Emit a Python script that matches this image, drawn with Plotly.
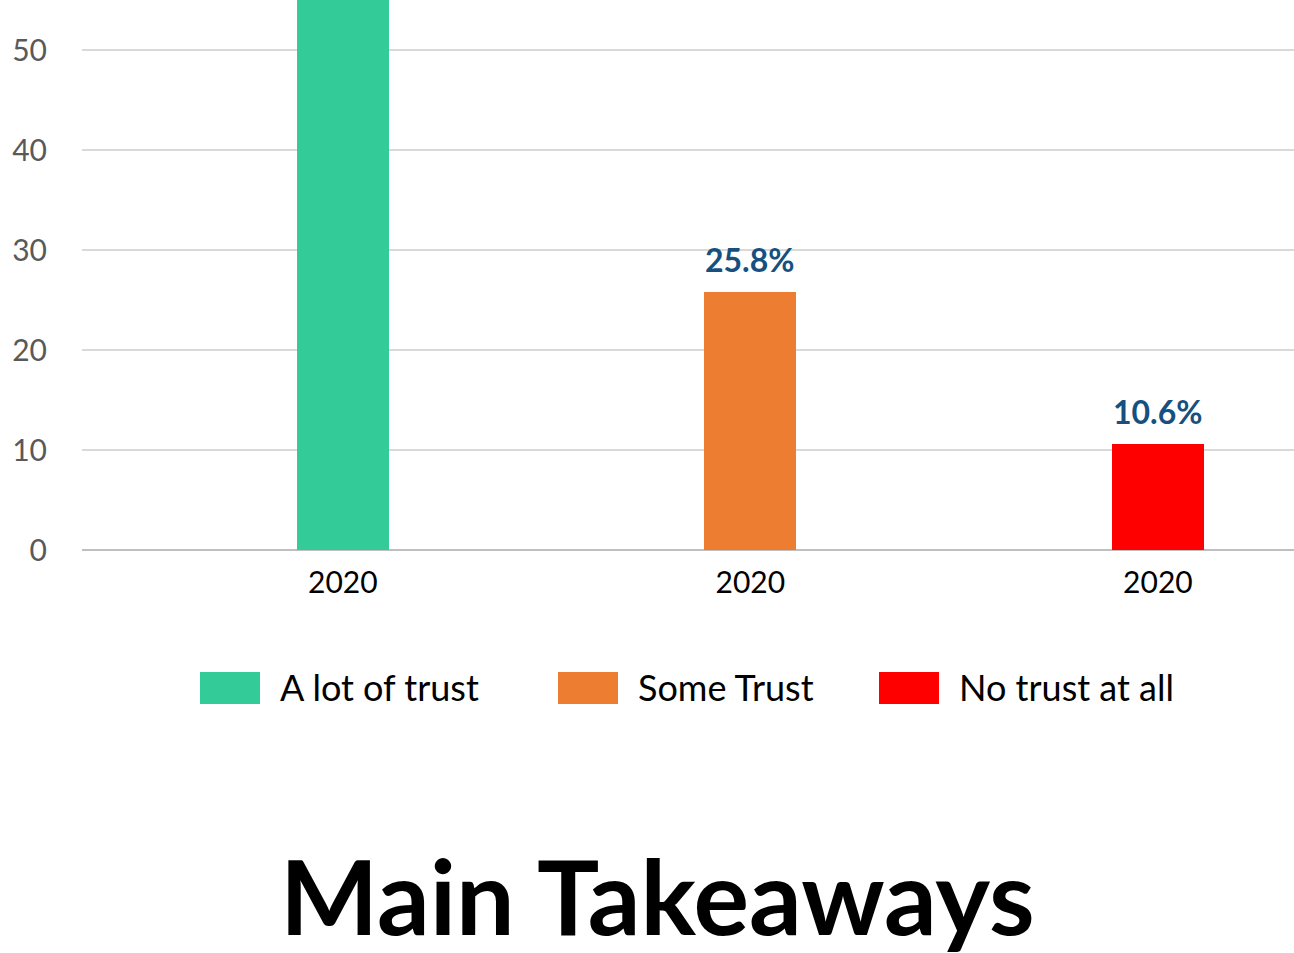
"""
Trust levels (2020) bar chart with a custom legend and a heading below.
"""

import plotly.graph_objects as go

# ── Data ─────────────────────────────────────────────────────
categories = ["A lot of trust", "Some Trust", "No trust at all"]
values = [63.6, 25.8, 10.6]
year_labels = ["2020", "2020", "2020"]
colors = ["#33CC99", "#ED7D31", "#FF0000"]
y_ticks = [0, 10, 20, 30, 40, 50]

# ── Page geometry (px) ───────────────────────────────────────
W, H = 1294, 953
L, PLOT_BOTTOM = 82, 550


def px_x(p):
    return (p - L) / (W - L)


def px_y(p):
    return (PLOT_BOTTOM - p) / PLOT_BOTTOM


FONT = "Lato, 'Open Sans', sans-serif"

fig = go.Figure()
positions = list(range(len(categories)))

for i, (name, val, col) in enumerate(zip(categories, values, colors)):
    fig.add_trace(go.Bar(
        x=[positions[i]], y=[val], name=name,
        marker=dict(color=col, line=dict(width=0)),
        width=0.226, showlegend=False,
    ))
    fig.add_annotation(
        x=positions[i], y=val, text=f"<b>{val:.1f}%</b>",
        showarrow=False, yanchor="bottom", yshift=11,
        font=dict(family=FONT, size=32, color="#17507F"),
    )

# ── Custom legend ───────────────────────────────────────────
legend_box_x = [200, 558, 879]
for name, col, bx in zip(categories, colors, legend_box_x):
    fig.add_shape(
        type="rect", xref="paper", yref="paper",
        x0=px_x(bx), x1=px_x(bx + 60), y0=px_y(704), y1=px_y(672),
        fillcolor=col, line=dict(width=0),
    )
    fig.add_annotation(
        xref="paper", yref="paper", x=px_x(bx + 78), y=px_y(687),
        text=name, showarrow=False, xanchor="left", yanchor="middle",
        font=dict(family=FONT, size=36, color="#000000"),
    )

# ── Heading ─────────────────────────────────────────────────
fig.add_annotation(
    xref="paper", yref="paper", x=px_x(657), y=px_y(894),
    text="<b>Main Takeaways</b>", showarrow=False,
    xanchor="center", yanchor="middle",
    font=dict(family=FONT, size=104, color="#000000"),
)

fig.update_layout(
    width=W, height=H,
    margin=dict(l=L, r=0, t=0, b=H - PLOT_BOTTOM, pad=0),
    paper_bgcolor="white", plot_bgcolor="white",
    bargap=0,
    font=dict(family=FONT, size=30),
)
fig.update_xaxes(
    range=[-0.64, 2.334], tickvals=positions, ticktext=year_labels,
    showgrid=False, zeroline=False, showline=False, ticks="",
    tickfont=dict(family=FONT, size=30, color="#000000"),
    ticklabelstandoff=12,
)
fig.update_yaxes(
    range=[0, 55], tickvals=y_ticks,
    showgrid=True, gridcolor="#D9D9D9", gridwidth=2,
    zeroline=True, zerolinecolor="#BFBFBF", zerolinewidth=2,
    showline=False, ticks="",
    tickfont=dict(family=FONT, size=30, color="#595959"),
    ticklabelstandoff=34,
)

# page body has a default 8px margin; drop it so the figure sits at 0,0
fig.write_html(
    "out.html",
    config={"displayModeBar": False},
    post_script="document.body.style.margin='0';",
)
